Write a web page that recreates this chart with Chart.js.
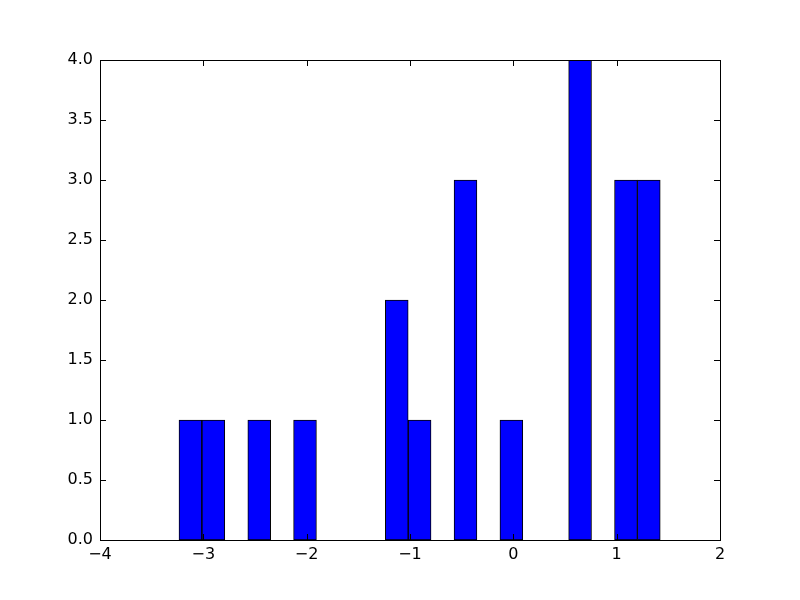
<!DOCTYPE html>
<html>
<head>
<meta charset="utf-8">
<script src="https://cdn.jsdelivr.net/npm/chart.js@4.4.1/dist/chart.umd.min.js"></script>
<style>
  html, body { margin: 0; padding: 0; background: #ffffff; }
  #wrap { width: 800px; height: 600px; }
</style>
</head>
<body>
<div id="wrap"><canvas id="hist" width="800" height="600"></canvas></div>
<script>
// histogram bins (centres) and counts
const binCenters = [-3.125, -2.903, -2.681, -2.459, -2.237, -2.016, -1.794, -1.572, -1.350, -1.128,
                    -0.907, -0.685, -0.463, -0.241, -0.019, 0.202, 0.424, 0.646, 0.868, 1.090, 1.311];
const binCounts = [1, 1, 0, 1, 0, 1, 0, 0, 0, 2, 1, 0, 3, 0, 1, 0, 0, 4, 0, 3, 3];
const xTicks = [-4, -3, -2, -1, 0, 1, 2];
const yTicks = [0, 0.5, 1, 1.5, 2, 2.5, 3, 3.5, 4];

const FONT = "'DejaVu Sans', sans-serif";

// frame + inward ticks on all four sides, like the classic matplotlib look
const frameTicks = {
    id: 'frameTicks',
    afterDraw(chart) {
        const { ctx, chartArea: a, scales } = chart;
        const len = 6;
        ctx.save();
        ctx.strokeStyle = '#000';
        ctx.lineWidth = 1;
        ctx.beginPath();
        xTicks.forEach(v => {
            const px = Math.round(scales.x.getPixelForValue(v)) + 0.5;
            ctx.moveTo(px, a.bottom); ctx.lineTo(px, a.bottom - len);
            ctx.moveTo(px, a.top); ctx.lineTo(px, a.top + len);
        });
        yTicks.forEach(v => {
            const py = Math.round(scales.y.getPixelForValue(v)) + 0.5;
            ctx.moveTo(a.left, py); ctx.lineTo(a.left + len, py);
            ctx.moveTo(a.right, py); ctx.lineTo(a.right - len, py);
        });
        ctx.stroke();
        ctx.strokeRect(Math.round(a.left) + 0.5, Math.round(a.top) + 0.5,
                       Math.round(a.right - a.left), Math.round(a.bottom - a.top));
        ctx.restore();
    }
};

new Chart(document.getElementById('hist').getContext('2d'), {
    type: 'bar',
    data: {
        datasets: [{
            data: binCenters.map((x, i) => ({ x: x, y: binCounts[i] })),
            backgroundColor: '#0000ff',
            borderColor: '#000000',
            borderWidth: 1,
            borderSkipped: false,
            barPercentage: 1,
            categoryPercentage: 1
        }]
    },
    options: {
        responsive: false,
        animation: false,
        layout: { padding: { top: 60, right: 80, left: 0, bottom: 0 } },
        plugins: { legend: { display: false }, tooltip: { enabled: false } },
        scales: {
            x: {
                type: 'linear',
                offset: false,
                min: -4, max: 2,
                afterFit: s => { s.height = 60; },
                afterBuildTicks: s => { s.ticks = xTicks.map(v => ({ value: v })); },
                grid: { display: false, drawTicks: false, offset: false },
                border: { display: false },
                ticks: {
                    color: '#000',
                    padding: 5,
                    maxRotation: 0,
                    font: { family: FONT, size: 16 },
                    callback: v => String(v).replace('-', '\u2212')
                }
            },
            y: {
                min: 0, max: 4,
                afterFit: s => { s.width = 100; },
                afterBuildTicks: s => { s.ticks = yTicks.map(v => ({ value: v })); },
                grid: { display: false, drawTicks: false },
                border: { display: false },
                ticks: {
                    color: '#000',
                    padding: 7,
                    font: { family: FONT, size: 16 },
                    callback: v => Number(v).toFixed(1)
                }
            }
        }
    },
    plugins: [frameTicks]
});
</script>
</body>
</html>
